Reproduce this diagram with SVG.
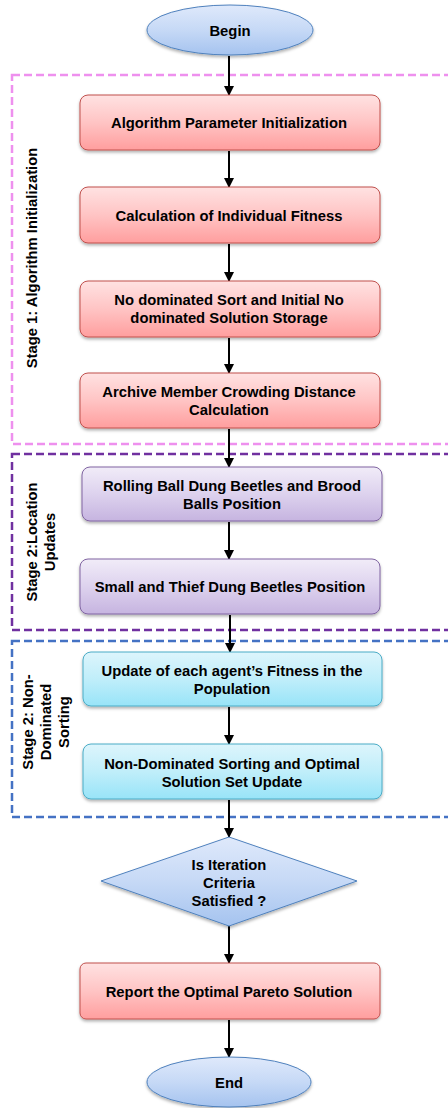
<svg xmlns="http://www.w3.org/2000/svg" width="448" height="1108" viewBox="0 0 448 1108">
<defs>
<linearGradient id="gRed" x1="0" y1="0" x2="0" y2="1"><stop offset="0" stop-color="#ffe2e2"/><stop offset="0.5" stop-color="#ffc4c4"/><stop offset="1" stop-color="#ff9e9e"/></linearGradient>
<linearGradient id="gPur" x1="0" y1="0" x2="0" y2="1"><stop offset="0" stop-color="#f1ecf8"/><stop offset="0.5" stop-color="#ddd2ee"/><stop offset="1" stop-color="#c6b4e0"/></linearGradient>
<linearGradient id="gCyan" x1="0" y1="0" x2="0" y2="1"><stop offset="0" stop-color="#ddf5fc"/><stop offset="0.5" stop-color="#c0eefa"/><stop offset="1" stop-color="#98e4f8"/></linearGradient>
<linearGradient id="gBlue" x1="0" y1="0" x2="0" y2="1"><stop offset="0" stop-color="#dfe9fb"/><stop offset="0.5" stop-color="#c6d9f6"/><stop offset="1" stop-color="#a5c3ef"/></linearGradient>
<filter id="sh" x="-10%" y="-10%" width="120%" height="130%"><feDropShadow dx="0" dy="2" stdDeviation="1.5" flood-color="#000" flood-opacity="0.3"/></filter>
<marker id="ah" viewBox="0 0 10 10" refX="9" refY="5" markerWidth="5" markerHeight="5" orient="auto" markerUnits="strokeWidth"><path d="M0,0 L10,5 L0,10 z" fill="#000"/></marker>
</defs>
<style>
.t{font-family:"Liberation Sans",Arial,sans-serif;font-weight:bold;font-size:14.8px;fill:#000;text-anchor:middle}
.s{font-family:"Liberation Sans",Arial,sans-serif;font-weight:bold;font-size:14.8px;fill:#000;text-anchor:middle}
.red{fill:url(#gRed);stroke:#c0504d;stroke-width:1;filter:url(#sh)}
.pur{fill:url(#gPur);stroke:#8064a2;stroke-width:1;filter:url(#sh)}
.cy{fill:url(#gCyan);stroke:#4bacc6;stroke-width:1;filter:url(#sh)}
.bl{fill:url(#gBlue);stroke:#4f81bd;stroke-width:1;filter:url(#sh)}
.dash{fill:none;stroke-width:2.5;stroke-dasharray:8,4}
.c{stroke:#000;stroke-width:2;fill:none;marker-end:url(#ah)}
</style>
<rect width="448" height="1108" fill="#fff"/>

<g id="stage1">
<rect class="dash" x="12" y="75" width="450" height="369" stroke="#ee90ee"/>
<text class="s" transform="translate(37,258) rotate(-90)">Stage 1: Algorithm Initialization</text>
</g>
<g id="stage2">
<rect class="dash" x="12" y="454" width="450" height="176" stroke="#7030a0"/>
<text class="s" transform="translate(37,542) rotate(-90)">Stage 2:Location</text>
<text class="s" transform="translate(55,542) rotate(-90)">Updates</text>
</g>
<g id="stage3">
<rect class="dash" x="12" y="641" width="450" height="176" stroke="#4472c4"/>
<text class="s" transform="translate(33,722) rotate(-90)">Stage 2: Non-</text>
<text class="s" transform="translate(51,722) rotate(-90)">Dominated</text>
<text class="s" transform="translate(69,722) rotate(-90)">Sorting</text>
</g>

<g id="connectors">
<line class="c" x1="229" y1="56" x2="229" y2="95"/>
<line class="c" x1="229" y1="151" x2="229" y2="187"/>
<line class="c" x1="229" y1="244" x2="229" y2="281"/>
<line class="c" x1="229" y1="338" x2="229" y2="373"/>
<line class="c" x1="229" y1="429" x2="229" y2="467"/>
<line class="c" x1="229" y1="522" x2="229" y2="559"/>
<line class="c" x1="230" y1="615" x2="230" y2="652"/>
<line class="c" x1="229" y1="707" x2="229" y2="744"/>
<line class="c" x1="229" y1="800" x2="229" y2="837"/>
<line class="c" x1="229" y1="926" x2="229" y2="963"/>
<line class="c" x1="229" y1="1020" x2="229" y2="1057"/>
</g>

<g id="begin">
<ellipse class="bl" cx="230" cy="30" rx="83" ry="25"/>
<text class="t" x="230" y="35.5">Begin</text>
</g>
<g id="n1">
<rect class="red" x="80" y="95" width="300" height="55" rx="8"/>
<text class="t" x="229" y="128">Algorithm Parameter Initialization</text>
</g>
<g id="n2">
<rect class="red" x="80" y="187" width="300" height="56" rx="8"/>
<text class="t" x="229" y="220.5">Calculation of Individual Fitness</text>
</g>
<g id="n3">
<rect class="red" x="80" y="281" width="300" height="56" rx="8"/>
<text class="t" x="229" y="305">No dominated Sort and Initial No</text>
<text class="t" x="229" y="323">dominated Solution Storage</text>
</g>
<g id="n4">
<rect class="red" x="80" y="373" width="300" height="55" rx="8"/>
<text class="t" x="229" y="397">Archive Member Crowding Distance</text>
<text class="t" x="229" y="415">Calculation</text>
</g>
<g id="n5">
<rect class="pur" x="82" y="467" width="300" height="54" rx="8"/>
<text class="t" x="232" y="490.5">Rolling Ball Dung Beetles and Brood</text>
<text class="t" x="232" y="508.5">Balls Position</text>
</g>
<g id="n6">
<rect class="pur" x="80" y="559" width="300" height="55" rx="8"/>
<text class="t" x="230" y="592">Small and Thief Dung Beetles Position</text>
</g>
<g id="n7">
<rect class="cy" x="83" y="652" width="299" height="54" rx="8"/>
<text class="t" x="232" y="676">Update of each agent’s Fitness in the</text>
<text class="t" x="232" y="694">Population</text>
</g>
<g id="n8">
<rect class="cy" x="83" y="744" width="299" height="55" rx="8"/>
<text class="t" x="232" y="768.5">Non-Dominated Sorting and Optimal</text>
<text class="t" x="232" y="786.5">Solution Set Update</text>
</g>
<g id="decision">
<polygon class="bl" points="229,837 357,881 229,926 101,881"/>
<text class="t" x="229" y="869.5">Is Iteration</text>
<text class="t" x="229" y="887.5">Criteria</text>
<text class="t" x="229" y="906">Satisfied ?</text>
</g>
<g id="report">
<rect class="red" x="80" y="963" width="300" height="56" rx="6"/>
<text class="t" x="229" y="996.5">Report the Optimal Pareto Solution</text>
</g>
<g id="end">
<ellipse class="bl" cx="229" cy="1082" rx="82" ry="25"/>
<text class="t" x="229" y="1087.5">End</text>
</g>
</svg>
